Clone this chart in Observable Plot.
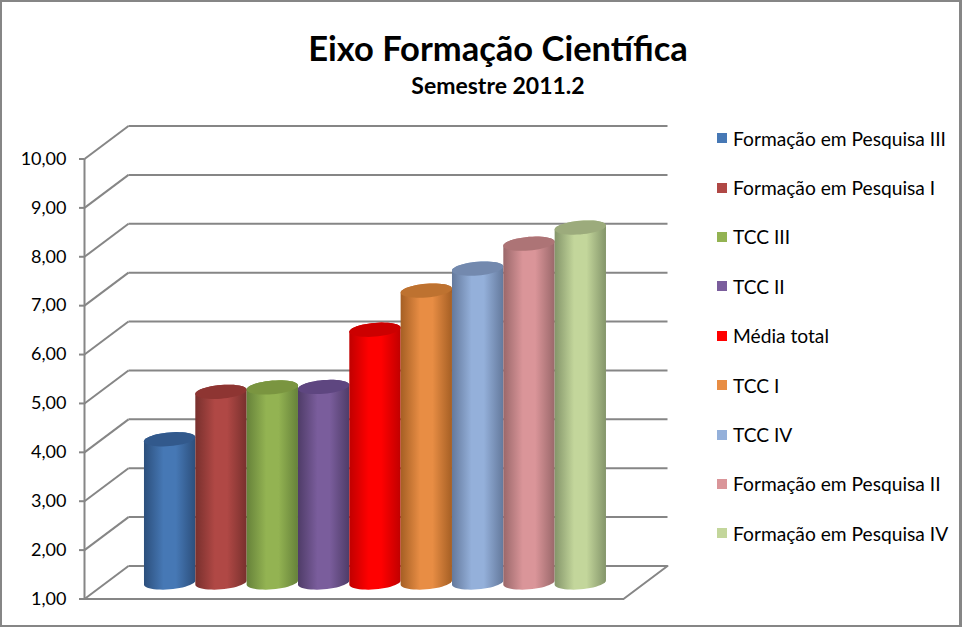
<!DOCTYPE html>
<html><head><meta charset="utf-8">
<script src="https://cdn.jsdelivr.net/npm/d3@7"></script>
<script src="https://cdn.jsdelivr.net/npm/@observablehq/plot@0.6"></script>
<style>
html,body{margin:0;padding:0;background:#fff;width:962px;height:627px;overflow:hidden;font-family:Lato,sans-serif;color:#000}
#frame{position:absolute;left:0;top:0;width:962px;height:627px;box-sizing:border-box;border:solid #868686;border-width:2px 3px 2px 2px;pointer-events:none}
#title{position:absolute;left:0;top:25px;width:996px;text-align:center;font-weight:700;font-size:34.5px;line-height:46px}
#subtitle{position:absolute;left:0;top:71px;width:996px;text-align:center;font-weight:700;font-size:23px;line-height:28px}
#chart{position:absolute;left:0;top:100px}
#legend{position:absolute;left:717px;top:113.5px}
.row{height:49.4px;display:flex;align-items:center;font-size:19.2px;white-space:nowrap}
.sw{width:10px;height:10px;margin-right:6px;flex:none}
</style></head><body>
<div id="title">Eixo Formação Científica</div>
<div id="subtitle">Semestre 2011.2</div>
<div id="chart"></div>
<div id="legend"></div>
<div id="frame"></div>
<script>
const categories = ["Formação em Pesquisa III","Formação em Pesquisa I","TCC III","TCC II","Média total","TCC I","TCC IV","Formação em Pesquisa II","Formação em Pesquisa IV"];
const values = [3.93,4.90,4.99,5.00,6.17,6.97,7.42,7.93,8.26];
const colors = ["#4678B5","#B04845","#93B352","#7A5D9C","#FF0000","#E88D44","#94B0DA","#DA9599","#C3D69B"];
const edgeColors = ["#2C4F7C","#78302D","#66823A","#4F3C68","#C00000","#A55F24","#64799C","#9A686A","#84956A"];
const topColors = ["#32598C","#8E3532","#7A9540","#5E4680","#CC0000","#BE7230","#7389AE","#AD7476","#9CAB7C"];
const yTicks = [1,2,3,4,5,6,7,8,9,10];

const depthX = 44/51.33, depthY = 33/48.89;      // wall depth in data units
const xEnd = 10.5;
const firstBar = 0.73, rx = 0.5, ry = 0.14, tilt = 0.085;
const step = Math.PI/24;

const ell = (cx, cy, a) => ({x: cx + rx*Math.cos(a), y: cy - ry*Math.sin(a) + tilt*rx*Math.cos(a)});
const bars = values.map((v,i) => {
  const cx = firstBar + depthX/2 + rx + i;
  const base = 1 + depthY/2, top = base + v - 1;
  const upper = d3.range(Math.PI, 2*Math.PI + 0.001, step).map(a => ell(cx, top, a));
  const lower = d3.range(0, Math.PI + 0.001, step).map(a => ell(cx, base, a));
  return {i, body:[...upper, ...lower], cap: d3.range(0, 2*Math.PI, step).map(a => ell(cx, top, a))};
});

const gridColor = "#868686";
const back = yTicks.map(y => ({x1:depthX, x2:xEnd+depthX, y1:y+depthY, y2:y+depthY}));
const side = yTicks.map(y => ({x1:0, x2:depthX, y1:y, y2:y+depthY}));
const floor = [{x:0,y:1},{x:xEnd,y:1},{x:xEnd+depthX,y:1+depthY}];

const defs = () => {
  const svg = d3.create("svg:defs");
  colors.forEach((c,i) => {
    const g = svg.append("linearGradient").attr("id","cyl"+i).attr("x1",0).attr("x2",1).attr("y1",0).attr("y2",0);
    [[0,edgeColors[i]],[0.38,c],[0.62,c],[1,edgeColors[i]]].forEach(([o,k]) =>
      g.append("stop").attr("offset",o).attr("stop-color",k));
  });
  return svg.node();
};

const plot = Plot.plot({
  width: 690, height: 527,
  marginLeft: 0, marginRight: 0, marginTop: 0, marginBottom: 0,
  style: {background:"transparent", overflow:"visible"},
  x: {type:"linear", domain:[0,xEnd], range:[84,623], axis:null},
  y: {type:"linear", domain:[1,10], range:[498.5,58.5], axis:null},
  marks: [
    defs,
    Plot.link(back,{x1:"x1",x2:"x2",y1:"y1",y2:"y2",stroke:gridColor,strokeWidth:2}),
    Plot.link(side,{x1:"x1",x2:"x2",y1:"y1",y2:"y2",stroke:gridColor,strokeWidth:2}),
    Plot.line(floor,{x:"x",y:"y",stroke:gridColor,strokeWidth:2}),
    Plot.ruleX([0],{y1:1,y2:10,stroke:gridColor,strokeWidth:2}),
    Plot.axisY({anchor:"left",ticks:yTicks,x:0,tickSize:5,tickPadding:13,stroke:gridColor,strokeWidth:2,strokeOpacity:1,
      tickFormat:d=>d.toFixed(2).replace(".",","),fontSize:18,fontFamily:"Lato",color:"#000",label:null,textStroke:"none"}),
    ...bars.flatMap(b => [
      Plot.line(b.body,{x:"x",y:"y",curve:"linear-closed",fill:`url(#cyl${b.i})`,stroke:"none"}),
      Plot.line(b.cap,{x:"x",y:"y",curve:"linear-closed",fill:topColors[b.i],stroke:"none"})
    ])
  ]
});
document.getElementById("chart").append(plot);

const legend = d3.select("#legend");
categories.forEach((c,i) => {
  const r = legend.append("div").attr("class","row");
  r.append("span").attr("class","sw").style("background",colors[i]);
  r.append("span").text(c);
});
</script></body></html>
